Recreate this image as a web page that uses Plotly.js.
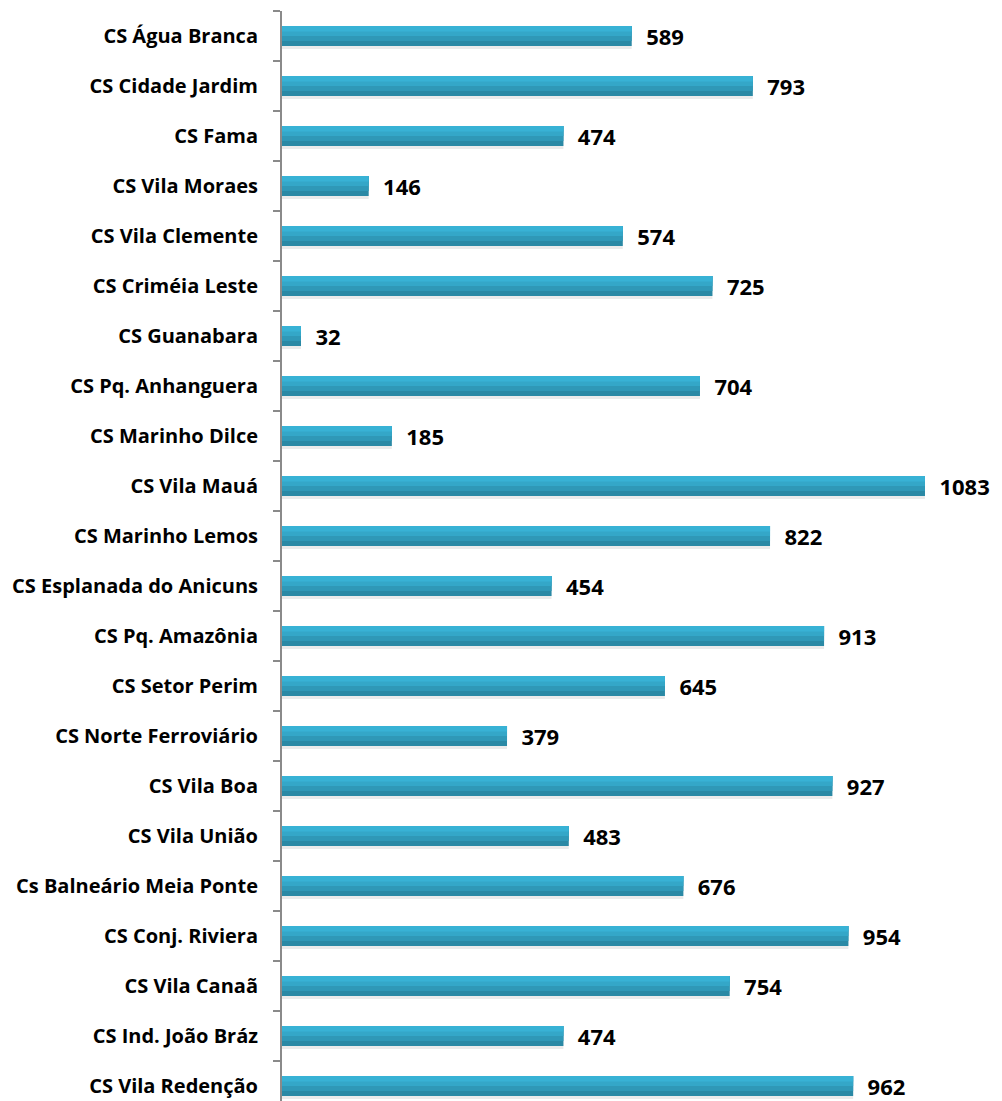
<!DOCTYPE html>
<html>
<head>
<meta charset="utf-8">
<script src="https://cdn.plot.ly/plotly-3.0.1.min.js"></script>
<style>
  body { margin: 0; background: #fff; }
  #chart { width: 1002px; height: 1101px; }
</style>
</head>
<body>
<div id="chart"></div>
<script>
var units = ['CS Água Branca','CS Cidade Jardim','CS Fama','CS Vila Moraes','CS Vila Clemente',
  'CS Criméia Leste','CS Guanabara','CS Pq. Anhanguera','CS Marinho Dilce','CS Vila Mauá',
  'CS Marinho Lemos','CS Esplanada do Anicuns','CS Pq. Amazônia','CS Setor Perim',
  'CS Norte Ferroviário','CS Vila Boa','CS Vila União','Cs Balneário Meia Ponte',
  'CS Conj. Riviera','CS Vila Canaã','CS Ind. João Bráz','CS Vila Redenção'];
var counts = [589,793,474,146,574,725,32,704,185,1083,822,454,913,645,379,927,483,676,954,754,474,962];

// soft drop shadow under each bar
var shadow = {
  type: 'bar', orientation: 'h', y: units, x: counts,
  width: 0.42, offset: -0.16,
  marker: {color: 'rgba(0,0,0,0.08)'},
  hoverinfo: 'none'
};

// the bar itself, layered bands to fake the vertical gradient
var bars = {
  type: 'bar', orientation: 'h', y: units, x: counts,
  width: 0.4, offset: -0.2,
  marker: {color: '#2a89a5'},
  text: counts, texttemplate: '  %{x}', textposition: 'outside',
  constraintext: 'none',
  textfont: {family: 'Open Sans', size: 22, color: '#000', weight: 'bold'},
  cliponaxis: false
};
var band2 = {
  type: 'bar', orientation: 'h', y: units, x: counts,
  width: 0.3, offset: -0.2,
  marker: {color: '#2f98b7'}, hoverinfo: 'none'
};
var band3 = {
  type: 'bar', orientation: 'h', y: units, x: counts,
  width: 0.2, offset: -0.2,
  marker: {color: '#34a7c8'}, hoverinfo: 'none'
};
var band4 = {
  type: 'bar', orientation: 'h', y: units, x: counts,
  width: 0.11, offset: -0.2,
  marker: {color: '#38b2d5'}, hoverinfo: 'none'
};

var layout = {
  width: 1002, height: 1101,
  margin: {l: 282, r: 0, t: 11, b: 0},
  barmode: 'overlay',
  showlegend: false,
  paper_bgcolor: '#fff', plot_bgcolor: '#fff',
  xaxis: {range: [0, 1212.7], visible: false, fixedrange: true},
  yaxis: {
    type: 'category', range: [21.3, -0.5],
    showline: true, linecolor: '#8a8a8a', linewidth: 2,
    ticks: 'outside', tickson: 'boundaries', ticklen: 7, tickcolor: '#8a8a8a', tickwidth: 2,
    ticklabelstandoff: 18,
    tickfont: {family: 'Open Sans', size: 20, color: '#000', weight: 'bold'},
    showgrid: false, zeroline: false
  }
};

Plotly.newPlot('chart', [shadow, bars, band2, band3, band4], layout, {staticPlot: true});
</script>
</body>
</html>
